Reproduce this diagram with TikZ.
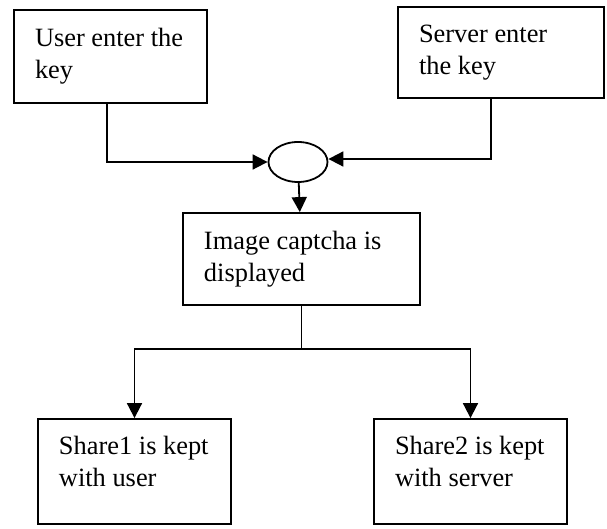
\documentclass[tikz,border=0pt]{standalone}
\usepackage{fontspec}
\setmainfont{Liberation Serif}
\usetikzlibrary{arrows.meta, shapes.geometric, positioning, calc}

\begin{document}
\begin{tikzpicture}[
  x=0.5pt, y=-0.5pt,
  box/.style={rectangle, draw=black, line width=0.9pt, fill=white,
              inner xsep=10.5pt, inner ysep=0pt, align=flush left,
              font=\fontsize{13.2}{16}\selectfont},
  sharebox/.style={box, text width=75.5pt, minimum height=52.5pt, text depth=26pt},
  junc/.style={ellipse, draw=black, line width=0.9pt, fill=white,
               minimum width=29.5pt, minimum height=20pt, inner sep=0pt},
  arr/.style={-{Triangle[length=7.5pt, width=7.5pt]}, line width=0.9pt, black},
  wire/.style={line width=0.9pt, black}
]
\useasboundingbox (0,0) rectangle (607,529);

\node[box, text width=75.5pt, minimum height=46.5pt] (user) at (110.5, 56.5)
  {User~enter~the\\key};
\node[box, text width=82pt, minimum height=45.5pt] (server) at (501, 52.5)
  {Server~enter\\the~key};
\node[junc] (xor) at (298, 162) {};
\node[box, text width=97.5pt, minimum height=46pt] (img) at (301.5, 259)
  {Image~captcha~is\\displayed};
\node[sharebox] (sh1) at (134.5, 471.5) {Share1~is~kept\\with~user};
\node[sharebox] (sh2) at (470.5, 471.5) {Share2~is~kept\\with~server};
\coordinate (split) at (301.5, 349);

\draw[arr] ([xshift=-1.75pt]user.south) |- (xor.west);
\draw[arr] ([xshift=-5pt]server.south) |- ([yshift=1.5pt]xor.east);
\draw[arr] (xor) -- (img);
\draw[wire] (img) -- (split);
\draw[arr] (split) -| (sh1.north);
\draw[arr] (split) -| (sh2.north);
\end{tikzpicture}
\end{document}
